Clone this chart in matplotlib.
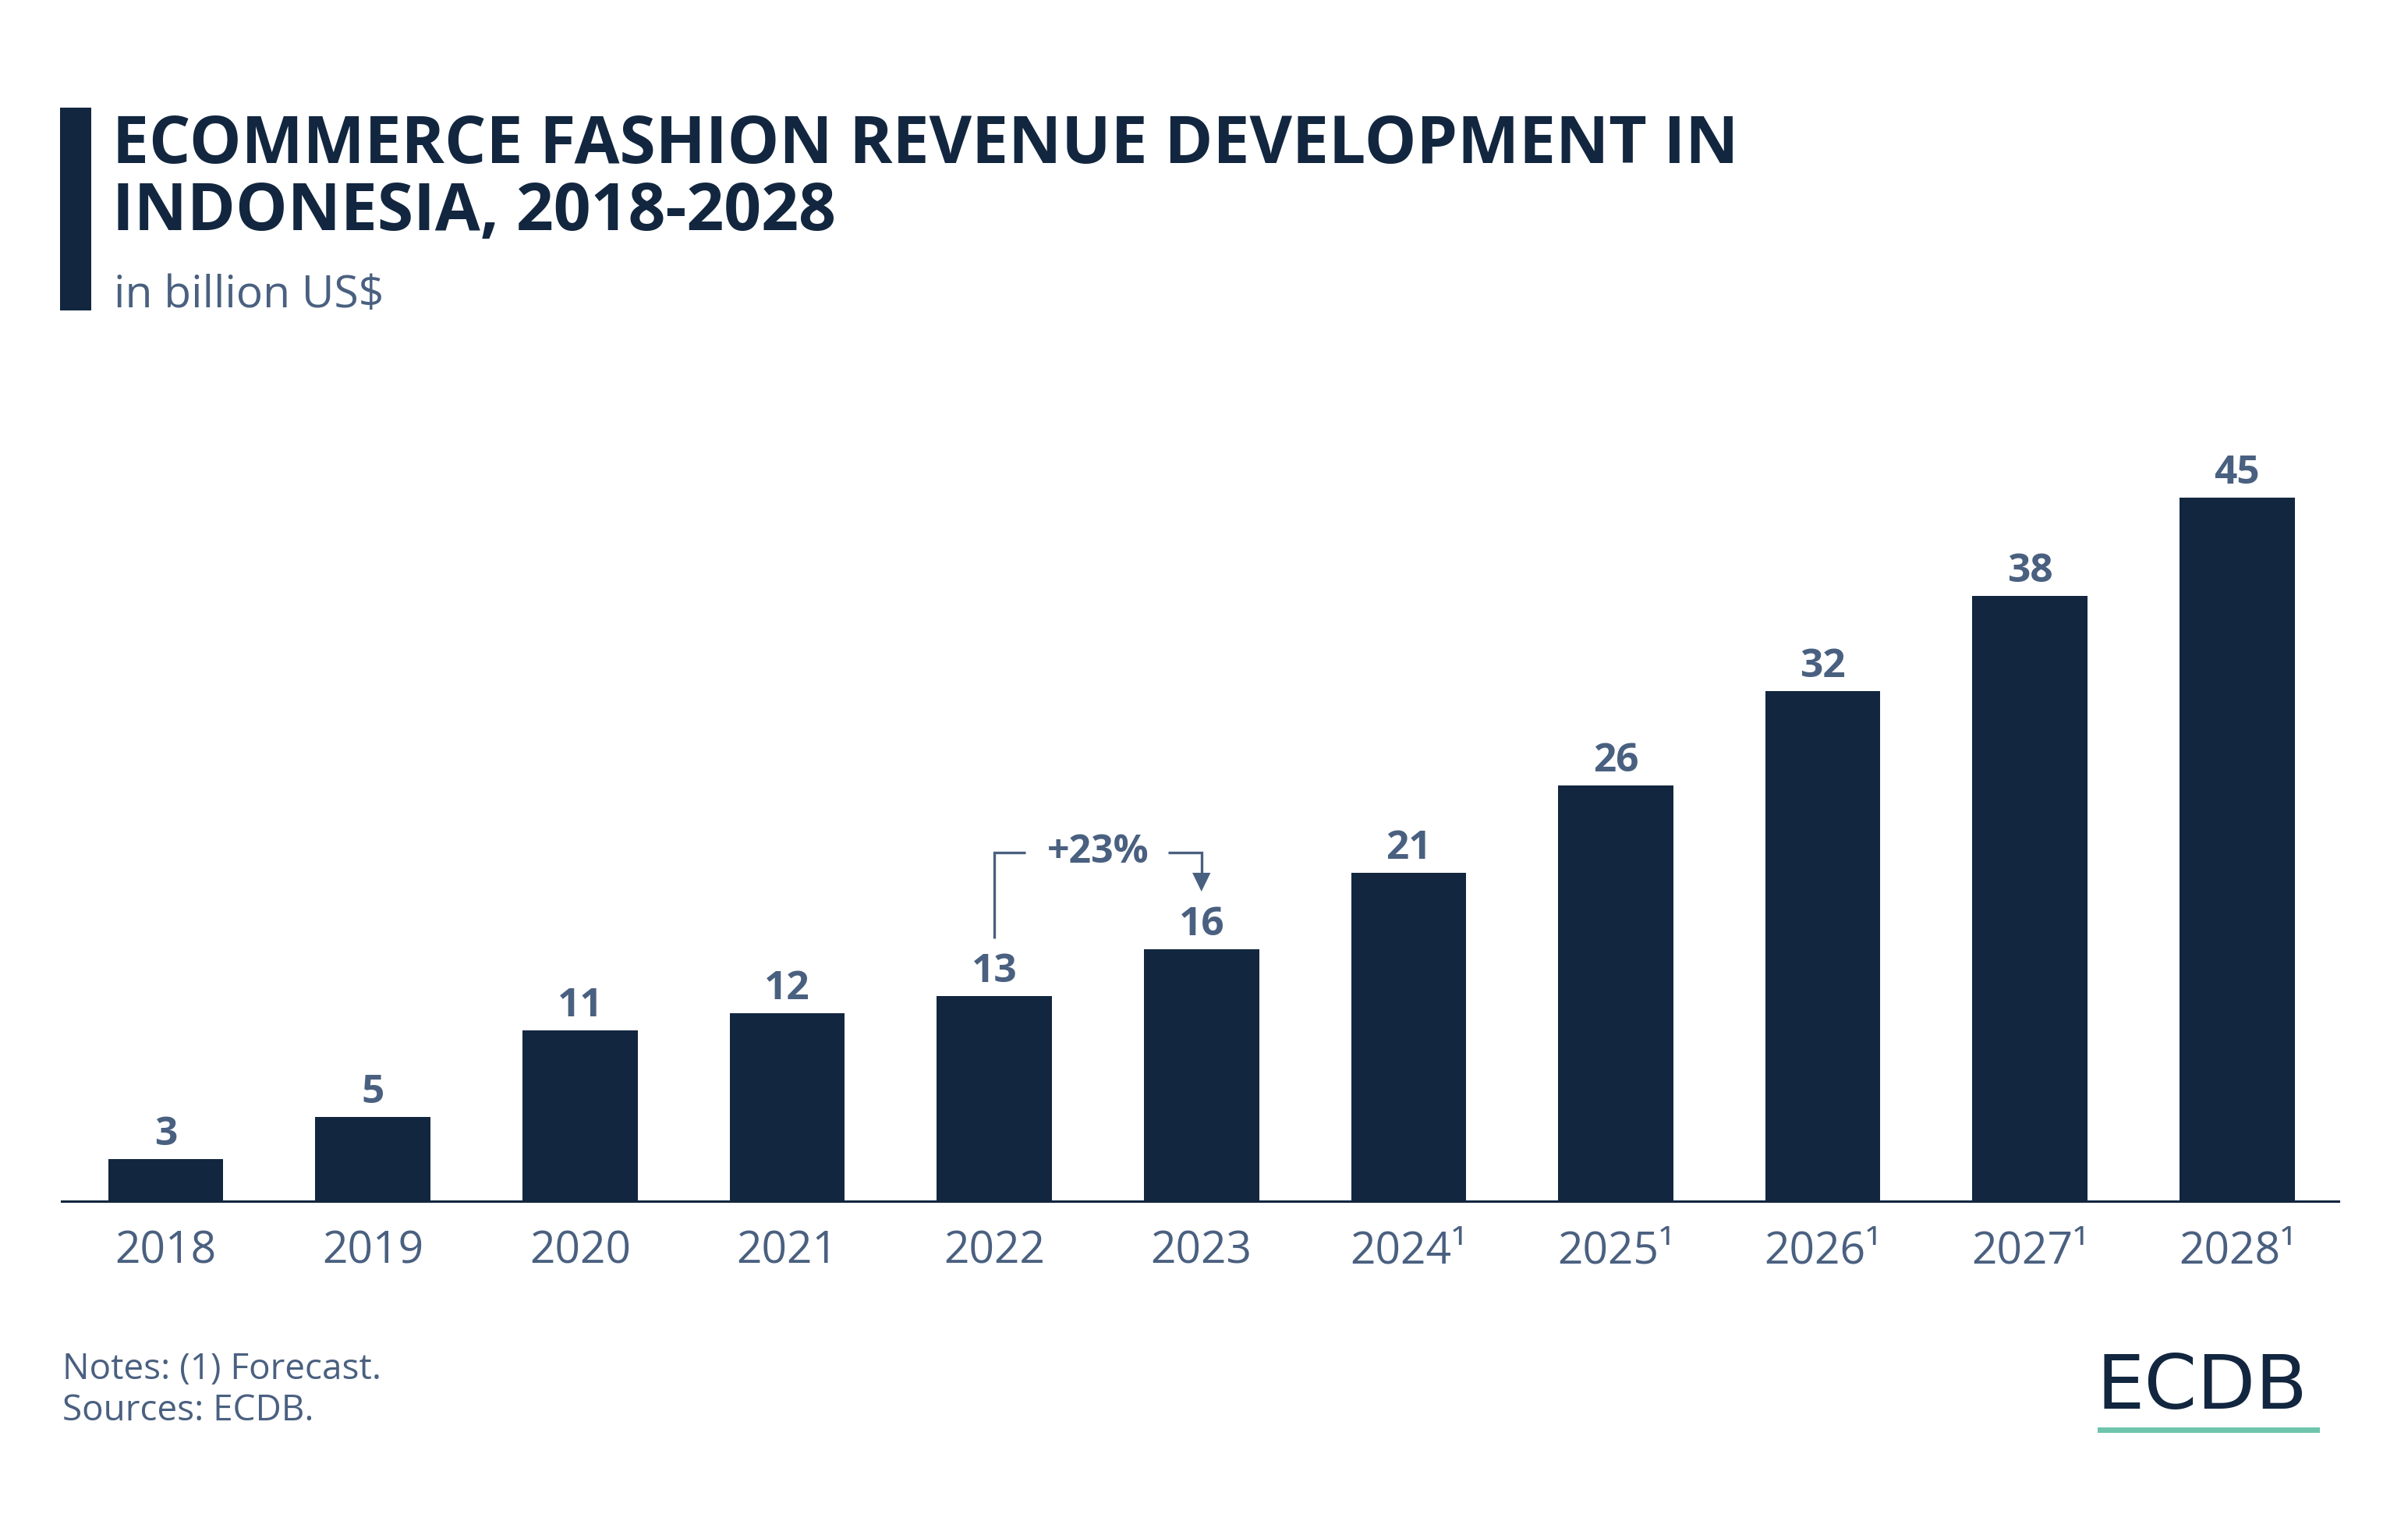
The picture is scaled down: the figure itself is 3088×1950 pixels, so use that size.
import matplotlib
matplotlib.use("Agg")
import matplotlib.pyplot as plt
from matplotlib.patches import Rectangle, Polygon

# ---- data ----
years = ["2018", "2019", "2020", "2021", "2022", "2023", "2024¹", "2025¹", "2026¹", "2027¹", "2028¹"]
values = [2.7, 5.4, 10.9, 12.0, 13.1, 16.1, 21.0, 26.6, 32.6, 38.7, 45.0]
labels = ["3", "5", "11", "12", "13", "16", "21", "26", "32", "38", "45"]
growth_label = "+23%"
growth_from, growth_to = 4, 5

title_lines = ["ECOMMERCE FASHION REVENUE DEVELOPMENT IN", "INDONESIA, 2018-2028"]
subtitle = "in billion US$"
notes = ["Notes: (1) Forecast.", "Sources: ECDB."]

NAVY = "#12263f"
SLATE = "#4a6080"
TEAL = "#6fc4ad"

W, H = 3088, 1950
DPI = 200
fig = plt.figure(figsize=(W / DPI, H / DPI), dpi=DPI)
fig.patch.set_facecolor("white")

def fx(x):
    return x / W

def fy(y):
    return 1 - y / H

FONT = "Open Sans"

# ---- axes ----
ax_left, ax_right, ax_bottom = 79, 2999, 1540
ymax = 50
px_per_unit = 20.05
ax_top = ax_bottom - ymax * px_per_unit
ax = fig.add_axes([fx(ax_left), fy(ax_bottom), (ax_right - ax_left) / W, (ax_bottom - ax_top) / H])
x = list(range(len(years)))
ax.bar(x, values, width=0.556, color=NAVY, zorder=2)
ax.set_xlim(-0.503, 10.49)
ax.set_ylim(0, ymax)
for s in ["top", "right", "left"]:
    ax.spines[s].set_visible(False)
ax.spines["bottom"].set_color(NAVY)
ax.spines["bottom"].set_linewidth(1.1)
ax.set_yticks([])
ax.set_xticks(x)
ax.set_xticklabels(years, fontfamily=FONT, fontsize=20.5, color=SLATE)
ax.tick_params(axis="x", length=0, pad=13)

for xi, v, lab in zip(x, values, labels):
    ax.annotate(lab, (xi, v), xytext=(0, 6.5), textcoords="offset points",
                ha="center", va="baseline", fontfamily=FONT, fontweight="bold",
                fontsize=18.5, color=SLATE)

# ---- growth annotation ----
y_line = values[growth_to] + 6.2
y_start = values[growth_from] + 3.7
x0, x1 = growth_from, growth_to
lw = 1.2
ax.plot([x0, x0, x0 + 0.15], [y_start, y_line, y_line], color=SLATE, lw=lw,
        solid_capstyle="butt", solid_joinstyle="miter", clip_on=False)
head_top = values[growth_to] + 4.9
head_tip = values[growth_to] + 3.7
ax.plot([x1 - 0.16, x1, x1], [y_line, y_line, head_top], color=SLATE, lw=lw,
        solid_capstyle="butt", solid_joinstyle="miter", clip_on=False)
ax.add_patch(Polygon([[x1 - 0.044, head_top], [x1 + 0.044, head_top], [x1, head_tip]],
                     closed=True, color=SLATE, lw=0, clip_on=False))
ax.text((x0 + x1) / 2, y_line, growth_label, ha="center", va="center",
        fontfamily=FONT, fontweight="bold", fontsize=18, color=SLATE)

# ---- header ----
fig.add_artist(Rectangle((fx(77), fy(398)), (117 - 77) / W, (398 - 138) / H,
                         transform=fig.transFigure, color=NAVY, lw=0))
fig.text(fx(144), fy(209), title_lines[0], fontfamily=FONT, fontweight="bold",
         fontsize=30.2, color=NAVY, ha="left", va="baseline")
fig.text(fx(144), fy(295), title_lines[1], fontfamily=FONT, fontweight="bold",
         fontsize=30.2, color=NAVY, ha="left", va="baseline")
fig.text(fx(146), fy(394), subtitle, fontfamily=FONT, fontsize=20.5, color=SLATE,
         ha="left", va="baseline")

# ---- footer ----
fig.text(fx(80), fy(1768), notes[0], fontfamily=FONT, fontsize=16.5, color=SLATE,
         ha="left", va="baseline")
fig.text(fx(80), fy(1821), notes[1], fontfamily=FONT, fontsize=16.5, color=SLATE,
         ha="left", va="baseline")

# ---- logo ----
fig.text(fx(2688), fy(1806), "ECDB", fontfamily="DejaVu Sans", fontsize=35, color=NAVY,
         ha="left", va="baseline")
fig.add_artist(Rectangle((fx(2690), fy(1837)), (2975 - 2690) / W, 7 / H,
                         transform=fig.transFigure, color=TEAL, lw=0))

fig.savefig("out.png", dpi=DPI, facecolor="white")
